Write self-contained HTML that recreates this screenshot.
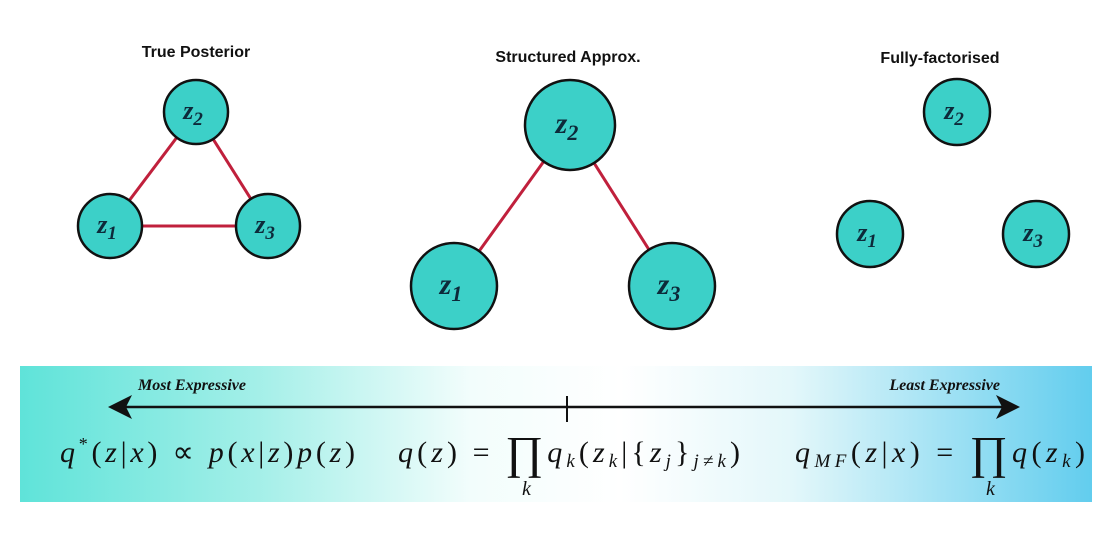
<!DOCTYPE html>
<html><head><meta charset="utf-8"><style>
body{margin:0;background:#fff;width:1112px;height:534px;overflow:hidden}
svg text{font-family:"Liberation Serif",serif}
</style></head><body>
<svg width="1112" height="534">
<defs>
<linearGradient id="bg" x1="0" x2="1" y1="0" y2="0">
<stop offset="0" stop-color="#5fe3d9"/><stop offset="0.22" stop-color="#a3efe8"/>
<stop offset="0.42" stop-color="#f2fdfc"/><stop offset="0.56" stop-color="#ffffff"/>
<stop offset="0.72" stop-color="#e3f7fa"/><stop offset="1" stop-color="#62cdee"/>
</linearGradient>
</defs>
<g font-weight="bold" font-size="16" text-anchor="middle" fill="#111">
<text x="196" y="57" style="font-family:'Liberation Sans',sans-serif">True Posterior</text>
<text x="568" y="62" style="font-family:'Liberation Sans',sans-serif">Structured Approx.</text>
<text x="940" y="63" style="font-family:'Liberation Sans',sans-serif">Fully-factorised</text>
</g>
<g stroke="#c0203c" stroke-width="3">
<line x1="196" y1="112" x2="110" y2="226"/><line x1="196" y1="112" x2="268" y2="226"/><line x1="110" y1="226" x2="268" y2="226"/>
<line x1="570" y1="125" x2="454" y2="286"/><line x1="570" y1="125" x2="672" y2="286"/>
</g>
<g fill="#3cd0c8" stroke="#111" stroke-width="2.5">
<circle cx="196" cy="112" r="32"/>
<circle cx="110" cy="226" r="32"/>
<circle cx="268" cy="226" r="32"/>
<circle cx="570" cy="125" r="45"/>
<circle cx="454" cy="286" r="43"/>
<circle cx="672" cy="286" r="43"/>
<circle cx="957" cy="112" r="33"/>
<circle cx="870" cy="234" r="33"/>
<circle cx="1036" cy="234" r="33"/>
</g>
<g font-style="italic" font-weight="bold" font-size="26" fill="#0d2a3a" text-anchor="middle">
<text x="193" y="119">z<tspan font-size="19" dy="6">2</tspan></text>
<text x="107" y="233">z<tspan font-size="19" dy="6">1</tspan></text>
<text x="265" y="233">z<tspan font-size="19" dy="6">3</tspan></text>
<text x="567" y="133" font-size="30">z<tspan font-size="22" dy="7">2</tspan></text>
<text x="451" y="294" font-size="30">z<tspan font-size="22" dy="7">1</tspan></text>
<text x="669" y="294" font-size="30">z<tspan font-size="22" dy="7">3</tspan></text>
<text x="954" y="119">z<tspan font-size="19" dy="6">2</tspan></text>
<text x="867" y="241">z<tspan font-size="19" dy="6">1</tspan></text>
<text x="1033" y="241">z<tspan font-size="19" dy="6">3</tspan></text>
</g>
<rect x="20" y="366" width="1072" height="136" fill="url(#bg)"/>
<g>
<line x1="120" y1="407" x2="1008" y2="407" stroke="#111" stroke-width="2.5"/>
<polygon points="108,407 132,395 126,407 132,419" fill="#111"/>
<polygon points="1020,407 996,395 1002,407 996,419" fill="#111"/>
<line x1="567" y1="396" x2="567" y2="422" stroke="#111" stroke-width="2"/>
</g>
<g font-style="italic" font-weight="bold" font-size="16" fill="#111">
<text x="138" y="390">Most Expressive</text>
<text x="1000" y="390" text-anchor="end">Least Expressive</text>
</g>
<g font-size="30" fill="#111">
<text x="60" y="462" textLength="295" lengthAdjust="spacing"><tspan font-style="italic">q</tspan><tspan font-size="18" dy="-12">*</tspan><tspan dy="12">(</tspan><tspan font-style="italic">z</tspan>|<tspan font-style="italic">x</tspan>) ∝ <tspan font-style="italic">p</tspan>(<tspan font-style="italic">x</tspan>|<tspan font-style="italic">z</tspan>)<tspan font-style="italic">p</tspan>(<tspan font-style="italic">z</tspan>)</text>
<text x="398" y="462" textLength="342" lengthAdjust="spacing"><tspan font-style="italic">q</tspan>(<tspan font-style="italic">z</tspan>) = <tspan font-size="46" dy="6">∏</tspan><tspan dy="-6" font-style="italic">q</tspan><tspan font-size="19" font-style="italic" dy="5">k</tspan><tspan dy="-5">(</tspan><tspan font-style="italic">z</tspan><tspan font-size="19" font-style="italic" dy="5">k</tspan><tspan dy="-5">|{</tspan><tspan font-style="italic">z</tspan><tspan font-size="19" font-style="italic" dy="5">j</tspan><tspan dy="-5">}</tspan><tspan font-size="19" font-style="italic" dy="5">j≠k</tspan><tspan dy="-5">)</tspan></text>
<text x="522" y="495" font-size="20" font-style="italic">k</text>
<text x="795" y="462" textLength="290" lengthAdjust="spacing"><tspan font-style="italic">q</tspan><tspan font-size="19" font-style="italic" dy="5">MF</tspan><tspan dy="-5">(</tspan><tspan font-style="italic">z</tspan>|<tspan font-style="italic">x</tspan>) = <tspan font-size="46" dy="6">∏</tspan><tspan dy="-6" font-style="italic">q</tspan>(<tspan font-style="italic">z</tspan><tspan font-size="19" font-style="italic" dy="5">k</tspan><tspan dy="-5">)</tspan></text>
<text x="986" y="495" font-size="20" font-style="italic">k</text>
</g>
</svg>
</body></html>
